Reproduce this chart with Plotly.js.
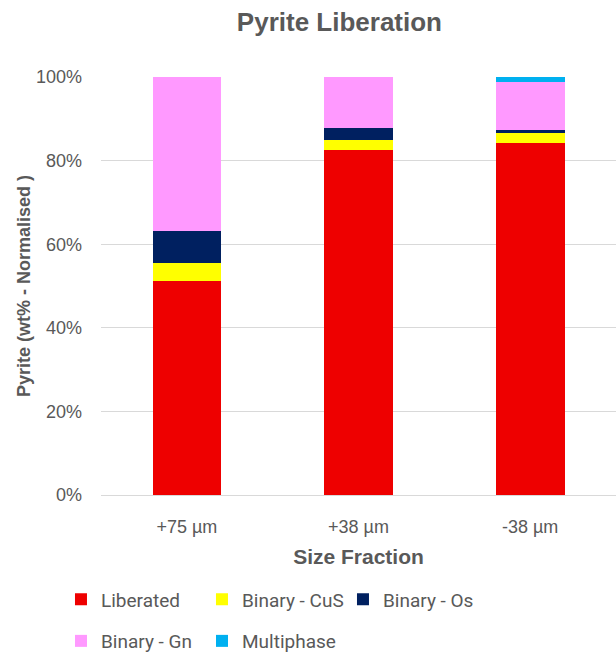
<!DOCTYPE html>
<html>
<head>
<meta charset="utf-8">
<script src="https://cdn.plot.ly/plotly-3.0.1.min.js"></script>
<style>
  html, body { margin: 0; padding: 0; background: #fff; }
  #chart { width: 616px; height: 656px; }
</style>
</head>
<body>
<div id="chart"></div>
<script>
// Size fractions on the x axis
const sizeFractions = ["+75 µm", "+38 µm", "-38 µm"];

// Pyrite association by size fraction (wt%, normalised to 100)
const liberated  = [51.2, 82.6, 84.1];
const binaryCuS  = [4.2, 2.3, 2.4];
const binaryOs   = [7.8, 2.8, 0.9];
const binaryGn   = [36.8, 12.3, 11.4];
const multiphase = [0.0, 0.0, 1.2];

const seriesNames  = ["Liberated", "Binary - CuS", "Binary - Os", "Binary - Gn", "Multiphase"];
const seriesValues = [liberated, binaryCuS, binaryOs, binaryGn, multiphase];
const seriesColors = ["#EE0000", "#FFFF00", "#002060", "#FF99FF", "#00B0F0"];
// first three entries go on the upper legend row, the rest on the lower one
const legendRow    = ["legend", "legend", "legend", "legend2", "legend2"];

const traces = seriesNames.map((name, i) => ({
  type: "bar",
  name: name,
  legend: legendRow[i],
  x: sizeFractions,
  y: seriesValues[i].map(v => v / 100),
  marker: { color: seriesColors[i], line: { width: 0 } },
  hoverinfo: "skip"
}));

const grey = "#595959";
const sans = "Arial, Liberation Sans, sans-serif";
const legendFont = { size: 19, color: grey, family: "Roboto, Arial, sans-serif" };

const legendBase = {
  orientation: "h",
  xanchor: "left",
  xref: "container",
  yanchor: "top",
  yref: "container",
  entrywidth: 96,
  entrywidthmode: "pixels",
  traceorder: "normal",
  font: legendFont,
  itemclick: false,
  itemdoubleclick: false,
  bgcolor: "rgba(0,0,0,0)"
};

const layout = {
  width: 616,
  height: 656,
  barmode: "stack",
  bargap: 0.6,
  paper_bgcolor: "#ffffff",
  plot_bgcolor: "#ffffff",
  margin: { l: 101, r: 0, t: 77, b: 161 },
  font: { family: sans, color: grey },
  title: {
    text: "<b>Pyrite Liberation</b>",
    font: { size: 26, color: grey, family: sans },
    x: 0.551, xref: "container", xanchor: "center",
    y: 0.966, yref: "container", yanchor: "middle"
  },
  xaxis: {
    type: "category",
    tickfont: { size: 18, color: grey },
    showline: false,
    ticks: "",
    showgrid: false,
    zeroline: false,
    ticklabelstandoff: 19,
    title: {
      text: "<b>Size Fraction</b>",
      font: { size: 21, color: grey },
      standoff: 13
    }
  },
  yaxis: {
    range: [0, 1],
    tickvals: [0, 0.2, 0.4, 0.6, 0.8, 1.0],
    tickformat: ".0%",
    tickfont: { size: 18, color: grey },
    showgrid: true,
    gridcolor: "#D9D9D9",
    gridwidth: 1,
    zeroline: true,
    zerolinecolor: "#D9D9D9",
    zerolinewidth: 1,
    ticks: "",
    ticklabelstandoff: 18,
    title: {
      text: "<b>Pyrite (wt% - Normalised )</b>",
      font: { size: 18, color: grey },
      standoff: 0
    }
  },
  legend:  Object.assign({}, legendBase, { x: 0.0990, y: 0.1154 }),
  legend2: Object.assign({}, legendBase, { x: 0.0990, y: 0.0518 }),
  showlegend: true
};

Plotly.newPlot("chart", traces, layout, { displayModeBar: false, staticPlot: true });
</script>
</body>
</html>
